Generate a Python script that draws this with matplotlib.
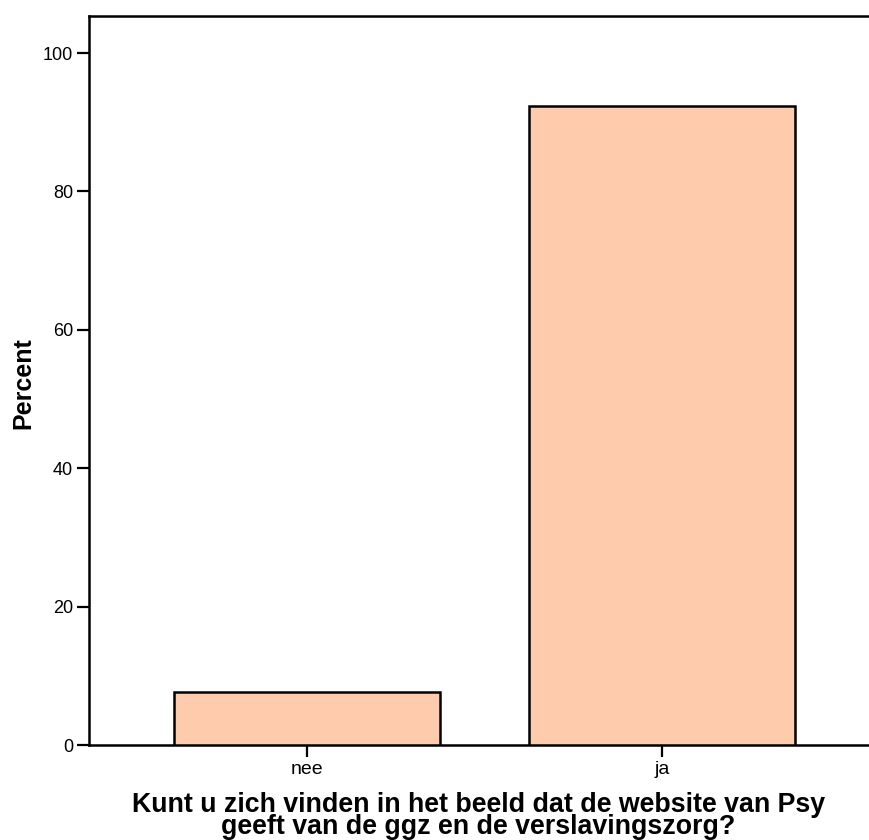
import matplotlib
matplotlib.use("Agg")
import matplotlib.pyplot as plt

categories = ["nee", "ja"]
percent = [7.6, 92.4]
yticks = [0, 20, 40, 60, 80, 100]

plt.rcParams['font.family'] = ['Liberation Sans', 'DejaVu Sans']

fig = plt.figure(figsize=(8.69, 8.40), dpi=100)
ax = fig.add_axes([89/869, 1-745/840, 791/869, (745-16)/840])

x = list(range(len(categories)))
ax.bar(x, percent, width=0.75, color="#ffcbad", edgecolor="black", linewidth=1.8, zorder=3)

ax.set_xlim(-0.614, 1.614)
ax.set_ylim(0, 105.35)
ax.set_xticks(x)
ax.set_xticklabels(categories, fontsize=14)
ax.set_yticks(yticks)
ax.set_yticklabels([str(v) for v in yticks], fontsize=13)

for s in ax.spines.values():
    s.set_linewidth(1.8)
ax.tick_params(axis='y', length=8.6, width=1.6, pad=3)
ax.tick_params(axis='x', length=8.6, width=1.6, pad=3)

ax.set_ylabel("Percent", fontsize=18, fontweight='bold', va='center')
ax.yaxis.set_label_coords(-0.0834, 0.497)
ax.set_xlabel("Kunt u zich vinden in het beeld dat de website van Psy\ngeeft van de ggz en de verslavingszorg?",
              fontsize=19.3, fontweight='bold', linespacing=0.835, va='top')
ax.xaxis.set_label_coords(0.492, -0.064)

fig.savefig("out.png", dpi=100)
